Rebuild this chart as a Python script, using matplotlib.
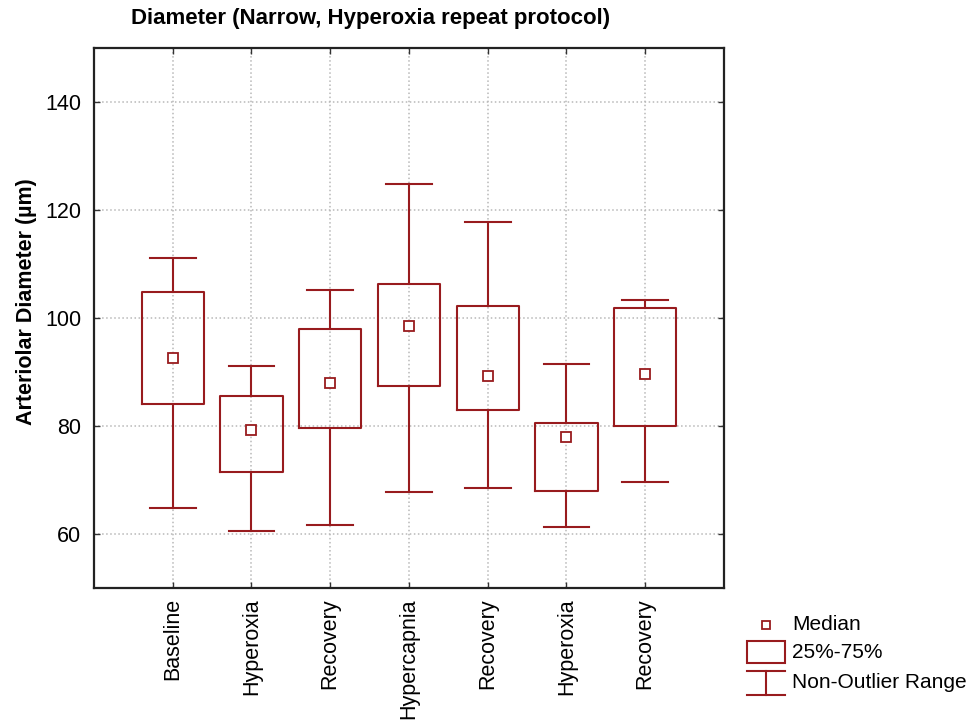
import matplotlib
matplotlib.use("Agg")
import matplotlib.pyplot as plt
from matplotlib.patches import Rectangle
from matplotlib.lines import Line2D

# diameter summaries per protocol step (um)
categories = ["Baseline", "Hyperoxia", "Recovery", "Hypercapnia",
              "Recovery", "Hyperoxia", "Recovery"]
whisker_low = [64.8, 60.7, 61.8, 67.8, 68.5, 61.4, 69.6]
q1 = [84.1, 71.5, 79.6, 87.4, 83.0, 68.1, 80.0]
medians = [92.6, 79.3, 88.1, 98.5, 89.3, 78.1, 89.6]
q3 = [104.8, 85.6, 98.1, 106.3, 102.2, 80.7, 101.9]
whisker_high = [111.2, 91.1, 105.2, 124.9, 117.8, 91.5, 103.3]

col = "#981b1e"
plt.rcParams["font.family"] = ["Liberation Sans", "DejaVu Sans"]

fig = plt.figure(figsize=(9.74, 7.27), dpi=100)
ax = fig.add_axes([0.0965, 0.1908, 0.6468, 0.7428])

stats = []
for i in range(len(categories)):
    stats.append({"whislo": whisker_low[i], "q1": q1[i], "med": medians[i],
                  "q3": q3[i], "whishi": whisker_high[i], "fliers": []})
pos = list(range(1, len(categories) + 1))

lw = 1.5
ax.bxp(stats, positions=pos, widths=0.79, showfliers=False,
       boxprops=dict(color=col, linewidth=lw),
       whiskerprops=dict(color=col, linewidth=lw),
       capprops=dict(color=col, linewidth=lw),
       medianprops=dict(linewidth=0),
       capwidths=0.58, zorder=3)
ax.plot(pos, medians, "s", ms=6.5, mfc="white", mec=col, mew=1.3, zorder=4)

ax.set_xlim(0, 8)
ax.set_ylim(50, 150)
ax.set_yticks([60, 80, 100, 120, 140])
ax.set_xticks(pos)
ax.set_xticklabels(categories, rotation=90, fontsize=15.5)
ax.tick_params(axis="y", labelsize=15.5, pad=9)
ax.tick_params(axis="x", pad=7)
ax.tick_params(direction="in", length=4, width=1, top=True, right=True,
               color="#333333")
ax.grid(True, color="#b8b8b8", linestyle=":", linewidth=1.1, zorder=0)
ax.set_axisbelow(True)
for s in ax.spines.values():
    s.set_linewidth(1.6)
    s.set_color("#222222")

ax.set_ylabel("Arteriolar Diameter (µm)", fontsize=15.5, fontweight="bold")
ax.yaxis.set_label_coords(-0.09, 0.53)
fig.text(0.38, 0.975, "Diameter (Narrow, Hyperoxia repeat protocol)",
         ha="center", va="center", fontsize=16, fontweight="bold")

# legend drawn in pixel space under the plot area
lg = fig.add_axes([0, 0, 1, 1], facecolor="none")
lg.set_xlim(0, 974)
lg.set_ylim(727, 0)
lg.axis("off")
lg.plot([766], [625], "s", ms=6, mfc="white", mec=col, mew=1.3)
lg.add_patch(Rectangle((747, 641), 38, 22, fill=False, ec=col, lw=lw))
lg.add_line(Line2D([747, 785], [671, 671], color=col, lw=lw))
lg.add_line(Line2D([766, 766], [671, 695], color=col, lw=lw))
lg.add_line(Line2D([747, 785], [695, 695], color=col, lw=lw))
lg.text(792, 625, "Median", fontsize=15, va="center")
lg.text(792, 653, "25%-75%", fontsize=15, va="center")
lg.text(792, 683, "Non-Outlier Range", fontsize=15, va="center")

fig.savefig("out.png", dpi=100)
